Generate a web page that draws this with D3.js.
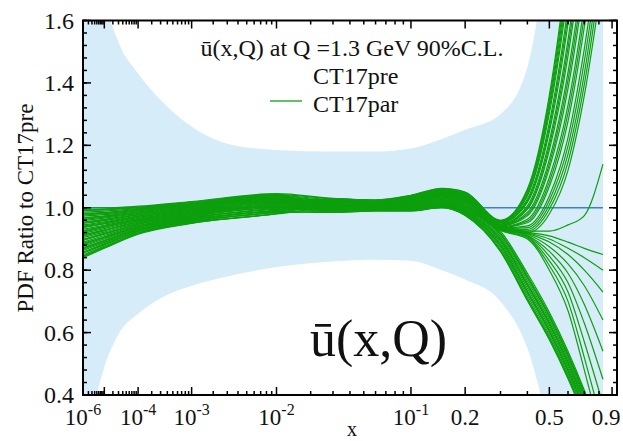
<!DOCTYPE html>
<html><head><meta charset="utf-8">
<script src="https://cdn.jsdelivr.net/npm/d3@7"></script>
<style>
body{margin:0;background:#fff}
svg{display:block}
text{font-family:"Liberation Serif","Times New Roman",serif;fill:#111}
</style>
</head><body>
<svg id="chart" width="623" height="441"></svg>
<script>
// ---------- data ----------
const xGrid = [1e-6, 1e-5, 1e-4, 1e-3, 0.01, 0.03, 0.06, 0.1, 0.15, 0.2, 0.3, 0.4, 0.5, 0.6, 0.7, 0.83];

const parCurves = [
 [1.000,1.000,1.005,1.020,1.045,1.030,1.025,1.040,1.062,1.050,.960,1.060,1.360,1.800,2.300,3.000],
 [.995,.996,1.002,1.018,1.043,1.013,1.012,1.021,1.039,1.022,.930,.920,.980,1.120,1.360,1.750],
 [.991,.993,1.000,1.016,1.041,.997,.999,1.003,1.016,.994,.913,.774,.649,.524,.399,.234],
 [.986,.989,.997,1.014,1.039,1.026,1.022,1.036,1.057,1.044,.953,1.028,1.272,1.643,2.080,2.710],
 [.982,.985,.995,1.012,1.038,1.009,1.009,1.017,1.034,1.016,.941,.920,.900,.870,.840,.800],
 [.977,.981,.992,1.010,1.036,.993,.996,.999,1.011,.988,.895,.750,.625,.500,.375,.210],
 [.973,.978,.990,1.008,1.034,1.022,1.019,1.031,1.051,1.037,.946,.995,1.185,1.486,1.870,2.420],
 [.968,.974,.987,1.006,1.032,1.006,1.006,1.013,1.028,1.009,.935,.912,.860,.790,.690,.540],
 [.963,.970,.984,1.004,1.030,.989,.993,.994,1.005,.981,.877,.726,.601,.476,.351,.186],
 [.959,.967,.982,1.002,1.028,1.018,1.016,1.027,1.046,1.031,.939,.963,1.097,1.329,1.650,2.130],
 [.954,.963,.979,1.000,1.026,1.002,1.003,1.009,1.023,1.003,.929,.904,.815,.700,.520,.300],
 [.950,.959,.977,.998,1.025,.985,.990,.990,1.000,.975,.859,.702,.577,.452,.327,.162],
 [.945,.955,.974,.996,1.023,1.015,1.013,1.023,1.041,1.024,.932,.931,1.009,1.172,1.430,1.850],
 [.941,.952,.972,.994,1.021,.998,1.000,1.004,1.018,.996,.919,.782,.657,.532,.407,.242],
 [.936,.948,.969,.992,1.019,1.027,1.023,1.037,1.058,1.046,.955,1.038,1.302,1.695,2.160,2.810],
 [.931,.944,.966,.990,1.017,1.011,1.010,1.019,1.035,1.018,.943,.922,.910,.890,.870,.850],
 [.927,.941,.964,.988,1.015,.994,.997,1.000,1.012,.990,.901,.758,.633,.508,.383,.218],
 [.922,.937,.961,.986,1.013,1.024,1.020,1.033,1.053,1.039,.948,1.006,1.214,1.538,1.940,2.520],
 [.918,.933,.959,.984,1.012,1.007,1.007,1.014,1.030,1.011,.937,.915,.875,.820,.750,.640],
 [.913,.929,.956,.982,1.010,.990,.994,.996,1.007,.984,.883,.734,.609,.484,.359,.194],
 [.909,.926,.954,.980,1.008,1.020,1.017,1.029,1.048,1.033,.942,.974,1.126,1.382,1.720,2.230],
 [.904,.922,.951,.978,1.006,1.003,1.004,1.010,1.025,1.005,.931,.907,.830,.730,.570,.370],
 [.899,.918,.948,.976,1.004,.986,.991,.991,1.002,.977,.865,.710,.585,.460,.335,.170],
 [.895,.915,.946,.974,1.002,1.016,1.014,1.024,1.043,1.026,.935,.942,1.038,1.225,1.510,1.940],
 [.890,.911,.943,.972,1.000,.999,1.001,1.006,1.020,.999,.925,.790,.665,.540,.415,.250],
 [.886,.907,.941,.970,.999,1.029,1.024,1.039,1.060,1.048,.958,1.049,1.331,1.748,2.230,2.900],
 [.881,.903,.938,.968,.997,1.012,1.011,1.020,1.037,1.020,.945,.925,.925,.945,.975,1.140],
 [.877,.900,.936,.966,.995,.995,.998,1.001,1.014,.992,.907,.766,.641,.516,.391,.226],
 [.872,.896,.933,.964,.993,1.025,1.021,1.034,1.055,1.041,.951,1.017,1.243,1.591,2.010,2.620],
 [.867,.892,.930,.962,.991,1.008,1.008,1.016,1.032,1.014,.939,.918,.890,.850,.800,.730],
 [.863,.889,.928,.960,.989,.991,.995,.997,1.009,.986,.889,.742,.617,.492,.367,.202],
 [.858,.885,.925,.958,.987,1.021,1.018,1.030,1.050,1.035,.944,.985,1.155,1.434,1.790,2.330],
 [.854,.881,.923,.956,.986,1.004,1.005,1.011,1.027,1.007,.933,.910,.845,.760,.630,.450],
 [.849,.877,.920,.954,.984,.988,.992,.993,1.004,.979,.871,.718,.593,.468,.343,.178],
 [.845,.874,.918,.952,.982,1.017,1.015,1.026,1.044,1.029,.937,.952,1.068,1.277,1.580,2.040],
 [.840,.870,.915,.950,.980,1.000,1.002,1.007,1.021,1.001,.927,.900,.800,.670,.480,.250],
 [.993,.995,1.001,1.017,1.042,1.029,1.024,1.039,1.061,1.049,.959,1.055,1.345,1.774,2.265,2.950],
 [.980,.983,.994,1.011,1.037,.997,.999,1.003,1.017,.995,.916,.778,.653,.528,.403,.238],
 [.966,.972,.986,1.005,1.031,1.025,1.021,1.035,1.056,1.042,.952,1.022,1.257,1.617,2.045,2.665],
 [.952,.961,.978,.999,1.025,1.020,1.017,1.029,1.049,1.034,.943,.979,1.140,1.408,1.755,2.280],
 [.939,.950,.971,.993,1.020,.989,.993,.995,1.006,.982,.880,.730,.605,.480,.355,.190],
 [.925,.939,.963,.987,1.014,1.028,1.023,1.038,1.059,1.047,.956,1.043,1.316,1.721,2.195,2.855],
 [.911,.928,.955,.981,1.009,1.018,1.015,1.026,1.045,1.030,.938,.957,1.082,1.303,1.615,2.085],
 [.897,.917,.947,.975,1.003,.993,.996,.999,1.011,.989,.898,.754,.629,.504,.379,.214],
 [.884,.905,.940,.969,.998,1.023,1.019,1.032,1.052,1.038,.947,1.000,1.200,1.512,1.905,2.470],
 [.870,.894,.932,.963,.992,1.015,1.013,1.023,1.042,1.025,.933,.936,1.023,1.198,1.470,1.895],
 [.856,.883,.924,.957,.987,.985,.990,.990,1.001,.976,.862,.706,.581,.456,.331,.166],
 [.843,.872,.917,.951,.981,1.014,1.012,1.022,1.040,1.023,.931,.925,.995,1.146,1.395,1.800]
];

const preX = [1e-6, 0.83];
const preY = [1.0, 1.0];

const bandX     = [1e-6, 3e-6, 1e-5, 3e-5, 1e-4, 3e-4, 1e-3, 3e-3, 0.01, 0.03, 0.06, 0.1, 0.15, 0.2, 0.3, 0.4, 0.5, 0.6, 0.83];
const bandUpper = [2.40, 1.95, 1.68, 1.53, 1.43, 1.345,1.26, 1.205,1.185,1.18, 1.18, 1.19,1.22, 1.25,1.30,1.45,1.90,2.50,3.00];
const bandLower = [0.15, 0.33, 0.49, 0.595,0.66, 0.71, 0.75, 0.78, 0.81, 0.828,0.833,0.83,0.80, 0.77,0.70,0.55,0.30,0.10,0.00];

const yTicks = [0.4, 0.6, 0.8, 1.0, 1.2, 1.4, 1.6];
const yTickLabels = ["0.4", "0.6", "0.8", "1.0", "1.2", "1.4", "1.6"];
const yMinorStep = 0.04;

const xMajorTicks = [1e-6, 1e-5, 1e-4, 1e-3, 1e-2, 1e-1, 0.2, 0.5, 0.9];
const xLabelTicks = [1e-6, 1e-4, 1e-3, 1e-2, 1e-1, 0.2, 0.5, 0.9];
const xLabelBase  = ["10", "10", "10", "10", "10", "0.2", "0.5", "0.9"];
const xLabelExp   = ["-6", "-4", "-3", "-2", "-1", "", "", ""];
const xMinorTicks = [2e-6,3e-6,4e-6,5e-6,6e-6,7e-6,8e-6,9e-6,
  2e-5,3e-5,4e-5,5e-5,6e-5,7e-5,8e-5,9e-5,
  2e-4,3e-4,4e-4,5e-4,6e-4,7e-4,8e-4,9e-4,
  2e-3,3e-3,4e-3,5e-3,6e-3,7e-3,8e-3,9e-3,
  0.02,0.03,0.04,0.05,0.06,0.07,0.08,0.09,
  0.3,0.4,0.6,0.7,0.8];

const legendTitle = "ū(x,Q) at Q =1.3 GeV 90%C.L.";
const legendLabels = ["CT17pre", "CT17par"];
const bigLabel = "ū(x,Q)";
const yAxisTitle = "PDF Ratio to CT17pre";
const xAxisTitle = "x";

// ---------- layout ----------
const L = 83, R = 617, T = 20.5, B = 395;
const svg = d3.select("#chart");

const x = d3.scalePow().exponent(0.2).domain([1e-6, 0.94]).range([L, R]);
const y = d3.scaleLinear().domain([0.4, 1.6]).range([B, T]);

svg.append("defs").append("clipPath").attr("id", "plotclip")
  .append("rect").attr("x", L).attr("y", T).attr("width", R - L).attr("height", B - T);

const plot = svg.append("g").attr("clip-path", "url(#plotclip)");

// CT17pre uncertainty band
const bandData = bandX.map((v, i) => ({x: v, lo: bandLower[i], hi: bandUpper[i]}));
plot.append("path")
  .datum(bandData)
  .attr("fill", "#d6ecf8")
  .attr("d", d3.area().curve(d3.curveMonotoneX)
    .x(d => x(d.x)).y0(d => y(d.lo)).y1(d => y(d.hi)));

// CT17pre central line
plot.append("path")
  .datum(preX.map((v, i) => [v, preY[i]]))
  .attr("fill", "none").attr("stroke", "#3b7fd9").attr("stroke-width", 1.6)
  .attr("d", d3.line().x(d => x(d[0])).y(d => y(d[1])));

// CT17par replicas
const lineGen = d3.line().curve(d3.curveMonotoneX).x(d => x(d[0])).y(d => y(d[1]));
plot.selectAll("path.par").data(parCurves).enter().append("path")
  .attr("class", "par")
  .attr("fill", "none").attr("stroke", "#0d9f0d").attr("stroke-width", 1.2)
  .attr("d", c => lineGen(c.map((v, i) => [xGrid[i], v])));

// ---------- frame & ticks ----------
const frame = svg.append("g");
frame.append("rect").attr("x", L).attr("y", T).attr("width", R - L).attr("height", B - T)
  .attr("fill", "none").attr("stroke", "#000").attr("stroke-width", 2);

function vtick(xx, len) {
  frame.append("line").attr("x1", xx).attr("x2", xx).attr("y1", B).attr("y2", B - len).attr("stroke", "#000").attr("stroke-width", 1.5);
  frame.append("line").attr("x1", xx).attr("x2", xx).attr("y1", T).attr("y2", T + len).attr("stroke", "#000").attr("stroke-width", 1.5);
}
function htick(yy, len) {
  frame.append("line").attr("y1", yy).attr("y2", yy).attr("x1", L).attr("x2", L + len).attr("stroke", "#000").attr("stroke-width", 1.5);
  frame.append("line").attr("y1", yy).attr("y2", yy).attr("x1", R).attr("x2", R - len).attr("stroke", "#000").attr("stroke-width", 1.5);
}
xMajorTicks.forEach(v => vtick(x(v), 8));
xMinorTicks.forEach(v => vtick(x(v), 4));
yTicks.forEach(v => htick(y(v), 8));
d3.range(0.4, 1.6001, yMinorStep).forEach(v => htick(y(v), 4));

// y tick labels
svg.selectAll("text.yl").data(yTicks).enter().append("text")
  .attr("class", "yl")
  .attr("x", L - 9).attr("y", d => y(d) + 8)
  .attr("text-anchor", "end").attr("font-size", 24)
  .text((d, i) => yTickLabels[i]);

// x tick labels
xLabelTicks.forEach((v, i) => {
  const xx = Math.min(x(v), 606);
  const t = svg.append("text").attr("x", xx).attr("y", 425)
    .attr("text-anchor", "middle").attr("font-size", 23);
  t.append("tspan").text(xLabelBase[i]);
  if (xLabelExp[i]) {
    t.append("tspan").attr("dy", -10).attr("font-size", 16).text(xLabelExp[i]);
  }
});

// axis titles
svg.append("text").attr("x", 352).attr("y", 436).attr("text-anchor", "middle")
  .attr("font-size", 20).text(xAxisTitle);
svg.append("text").attr("transform", "translate(33,208) rotate(-90)")
  .attr("text-anchor", "middle").attr("font-size", 23).text(yAxisTitle);

// legend
svg.append("text").attr("x", 352).attr("y", 56).attr("text-anchor", "middle")
  .attr("font-size", 24).text(legendTitle);
svg.append("text").attr("x", 313).attr("y", 84).attr("font-size", 24).text(legendLabels[0]);
svg.append("line").attr("x1", 270).attr("x2", 302).attr("y1", 101).attr("y2", 101)
  .attr("stroke", "#0d9f0d").attr("stroke-width", 1.3);
svg.append("text").attr("x", 313).attr("y", 112).attr("font-size", 24).text(legendLabels[1]);

// big label
svg.append("text").attr("x", 310).attr("y", 356).attr("font-size", 52).text(bigLabel);
</script>
</body></html>
